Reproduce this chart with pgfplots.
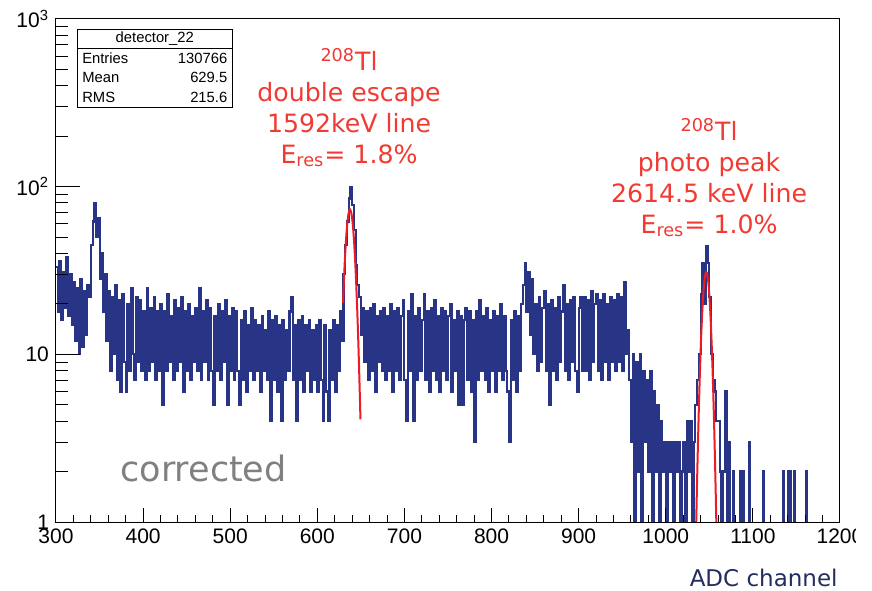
\documentclass[border=0pt]{standalone}
\usepackage{fontspec}
\setmainfont{Liberation Sans}
\newfontfamily\verd{DejaVu Sans}
\usepackage{pgfplots}
\pgfplotsset{compat=1.18}
\definecolor{rootblue}{RGB}{40,52,133}
\definecolor{annred}{RGB}{240,58,50}
\definecolor{fitred}{RGB}{236,28,36}
\definecolor{adcblue}{RGB}{35,45,95}
\definecolor{corrgray}{RGB}{128,128,128}
\begin{document}
\begin{tikzpicture}
\begin{scope}
\clip (-28pt,-34pt) rectangle (399.5pt,261pt);
\begin{axis}[at={(0,0)}, anchor=south west, scale only axis,
  width=392pt, height=251.5pt,
  xmin=300, xmax=1200, ymode=log, ymin=1, ymax=1000,
  xtick={300,400,500,600,700,800,900,1000,1100,1200},
  xticklabels={300,400,500,600,700,800,900,1000,1100,1200},
  minor x tick num=4,
  ytick={1,10,100,1000},
  yticklabels={1,10,10\textsuperscript{2},10\textsuperscript{3}},
  minor ytick={2,3,4,5,6,7,8,9,20,30,40,50,60,70,80,90,200,300,400,500,600,700,800,900},
  tick align=inside, xtick pos=lower, ytick pos=left,
  xtick style={/pgfplots/major tick length=7pt,/pgfplots/minor tick length=3.5pt,black,line width=0.5pt},
  ytick style={/pgfplots/major tick length=12pt,/pgfplots/minor tick length=6pt,black,line width=0.5pt},
  axis line style={line width=0.5pt},
  ticklabel style={font=\fontsize{10.5}{12}\selectfont},
  xlabel={ADC channel},
  xlabel style={at={(axis description cs:1,0)}, anchor=east, yshift=-28pt, xshift=-1pt, inner sep=0pt,
    font=\verd\fontsize{11.5}{13}\selectfont, text=adcblue},
  axis on top,
]
\addplot[const plot, rootblue, line width=1.05pt, line join=miter] coordinates {
(300,33)(302,18)(304,36)(306,16)(308,31)(310,19)(312,38)(314,17)(316,30)(318,15)
(320,27)(322,12)(324,25)(326,10)(328,28)(330,11)(332,24)(334,13)(336,26)(338,22)
(340,45)(342,62)(344,80)(346,50)(348,65)(350,28)(352,40)(354,18)(356,30)
(358,12)(360,24)(362,8)(364,22)(366,10)(368,26)(370,7)(372,21)(374,6)(376,23)
(378,9)(380,6)(382,20)(384,8)(386,25)(388,10)(390,7)(392,22)(394,9)
(396,21)(398,8)(400,18)(402,7)(404,25)(406,8)(408,19)(410,9)(412,22)(414,7)
(416,18)(418,8)(420,20)(422,5)(424,18)(426,8)(428,23)(430,9)(432,17)(434,7)
(436,21)(438,8)(440,19)(442,9)(444,22)(446,6)(448,18)(450,8)(452,20)(454,7)
(456,17)(458,9)(460,19)(462,8)(464,25)(466,7)(468,18)(470,9)(472,21)(474,7)
(476,19)(478,8)(480,5)(482,17)(484,8)(486,20)(488,7)(490,18)(492,9)(494,21)
(496,5)(498,17)(500,8)(502,19)(504,7)(506,18)(508,8)(510,5)
(512,16)(514,7)(516,18)(518,6)(520,15)(522,8)(524,19)(526,7)(528,16)(530,8)
(532,15)(534,6)(536,17)(538,8)(540,14)(542,7)(544,18)(546,4)(548,16)(550,7)
(552,17)(554,6)(556,15)(558,4)(560,16)(562,7)(564,14)(566,8)(568,18)(570,22)
(572,7)(574,15)(576,4)(578,16)(580,7)(582,17)(584,6)(586,15)(588,8)(590,16)
(592,6)(594,14)(596,7)(598,15)(600,6)(602,16)(604,7)(606,4)(608,15)(610,6)
(612,4)(614,14)(616,7)(618,16)(620,6)(622,15)
(624,8)(626,18)(628,12)(630,30)(632,45)(634,62)(636,85)(638,100)(640,78)(642,55)
(644,34)(646,26)(648,22)(650,13)(652,19)
(654,9)(656,18)(658,7)(660,19)(662,8)(664,20)(666,6)(668,17)(670,9)(672,18)
(674,8)(676,19)(678,7)(680,17)(682,8)(684,20)(686,6)(688,18)(690,8)(692,19)
(694,7)(696,17)(698,21)(700,7)(702,4)(704,18)(706,8)(708,23)(710,4)(712,17)
(714,7)(716,19)(718,8)(720,16)(722,23)(724,7)(726,18)(728,6)(730,19)(732,8)
(734,21)(736,7)(738,17)(740,6)(742,19)(744,8)(746,18)(748,7)(750,17)(752,20)
(754,6)(756,16)(758,8)(760,18)(762,5)(764,17)(766,5)(768,16)(770,19)(772,7)
(774,18)(776,6)(778,16)(780,3)(782,18)(784,7)(786,21)(788,8)(790,17)(792,7)
(794,19)(796,6)(798,16)(800,8)(802,18)(804,6)(806,17)(808,8)(810,20)(812,7)
(814,17)(816,8)(818,6)(820,3)(822,16)(824,7)(826,18)(828,6)(830,17)(832,8)
(834,20)(836,26)(838,35)(840,18)(842,31)(844,13)(846,28)(848,10)
(850,20)(852,8)(854,22)(856,9)(858,19)(860,24)(862,8)(864,20)(866,5)(868,21)
(870,8)(872,19)(874,7)(876,22)(878,9)(880,18)(882,26)(884,8)(886,20)(888,7)
(890,21)(892,9)(894,22)(896,8)(898,6)(900,19)(902,22)(904,8)
(906,22)(908,8)(910,21)(912,7)(914,24)(916,9)(918,20)(920,23)(922,8)(924,21)
(926,7)(928,23)(930,9)(932,20)(934,7)(936,22)(938,9)(940,21)(942,8)(944,23)
(946,9)(948,22)(950,8)(952,27)(954,10)
(956,14)(958,7)(960,3)(962,10)(964,0.5)(966,9)(968,2)(970,10)(972,0.5)(974,8)
(976,3)(978,7)(980,2)(982,8)(984,0.5)(986,6)(988,2)(990,5)(992,0.5)(994,4)
(996,2)(998,3)(1000,0.5)(1002,3)(1004,2)(1006,3)(1008,0.5)(1010,3)(1012,2)(1014,3)
(1016,0.5)(1018,2)(1020,3)(1022,0.5)(1024,4)(1026,2)(1028,4)(1030,0.5)(1032,3)(1034,5)
(1036,7)(1038,10)(1040,23)(1042,35)(1044,20)(1046,44)(1048,35)(1050,22)(1052,10)(1054,7)
(1056,6)(1058,4)(1060,4)(1062,2)(1064,0.5)(1066,2)(1068,6)(1070,0.5)(1072,3)(1074,0.5)
(1077,2)(1078,0.5)(1085,2)(1086,0.5)(1089,2)(1090,0.5)(1096,3)(1097,0.5)
(1112,2)(1113,0.5)(1135,2)(1136,0.5)(1140,2)(1141,0.5)(1143,2)(1144,0.5)
(1147,2)(1148,0.5)(1161,2)(1162,0.5)(1200,0.5)
};
\addplot[fitred, line width=1pt, smooth] coordinates {
(629.5,20.3)(630.5,27.4)(631.5,35.5)(632.5,44.3)(633.5,53.0)(634.5,61.0)(635.5,67.4)
(636.5,71.5)(637.5,73)(638.5,71.5)(639.5,67.4)(640.5,61.0)(641.5,53.0)(642.5,44.3)
(643.5,35.5)(644.5,27.4)(645.5,20.3)(646.5,14.5)(647.5,9.9)(648.5,6.5)(649.5,4.1)
};
\addplot[fitred, line width=1pt, smooth] coordinates {
(1034.5,0.75)(1035,1.02)(1036,1.80)(1037,3.01)(1038,4.80)(1039,7.25)(1040,10.4)(1041,14.2)
(1042,18.4)(1043,22.6)(1044,26.4)(1045,29.2)(1046,30.8)(1047,30.8)(1048,29.2)
(1049,26.4)(1050,22.6)(1051,18.4)(1052,14.2)(1053,10.4)(1054,7.25)(1055,4.80)
(1056,3.01)(1057,1.80)(1058,1.02)(1059,0.55)
};
% stats box
\draw[line width=0.5pt, fill=white] (rel axis cs:0.0268,0.825) rectangle (rel axis cs:0.2245,0.980);
\draw[line width=0.5pt] (rel axis cs:0.0268,0.942) -- (rel axis cs:0.2245,0.942);
\node[font=\fontsize{7.4}{8}\selectfont, inner sep=0pt] at (rel axis cs:0.126,0.961) {detector\_22};
\node[font=\fontsize{7.4}{8}\selectfont, inner sep=0pt, anchor=west] at (rel axis cs:0.033,0.922) {Entries};
\node[font=\fontsize{7.4}{8}\selectfont, inner sep=0pt, anchor=east] at (rel axis cs:0.219,0.922) {130766};
\node[font=\fontsize{7.4}{8}\selectfont, inner sep=0pt, anchor=west] at (rel axis cs:0.033,0.883) {Mean};
\node[font=\fontsize{7.4}{8}\selectfont, inner sep=0pt, anchor=east] at (rel axis cs:0.219,0.883) {629.5};
\node[font=\fontsize{7.4}{8}\selectfont, inner sep=0pt, anchor=west] at (rel axis cs:0.033,0.845) {RMS};
\node[font=\fontsize{7.4}{8}\selectfont, inner sep=0pt, anchor=east] at (rel axis cs:0.219,0.845) {215.6};
% annotations
\node[font=\verd\fontsize{12.6}{15.5}\selectfont, text=annred, align=center, inner sep=0pt]
  at (axis cs:636.4,296) {\textsuperscript{208}Tl\\double escape\\1592keV line\\E\textsubscript{res}= 1.8\%};
\node[font=\verd\fontsize{12.6}{15.5}\selectfont, text=annred, align=center, inner sep=0pt]
  at (axis cs:1049.7,113) {\textsuperscript{208}Tl\\photo peak\\2614.5 keV line\\E\textsubscript{res}= 1.0\%};
\node[font=\verd\fontsize{17.5}{20}\selectfont, text=corrgray, anchor=west, inner sep=0pt]
  at (axis cs:373.5,2.1) {corrected};
\end{axis}
\end{scope}
\pgfresetboundingbox
\path[use as bounding box] (-28pt,-34pt) rectangle (408pt,261pt);
\end{tikzpicture}
\end{document}
